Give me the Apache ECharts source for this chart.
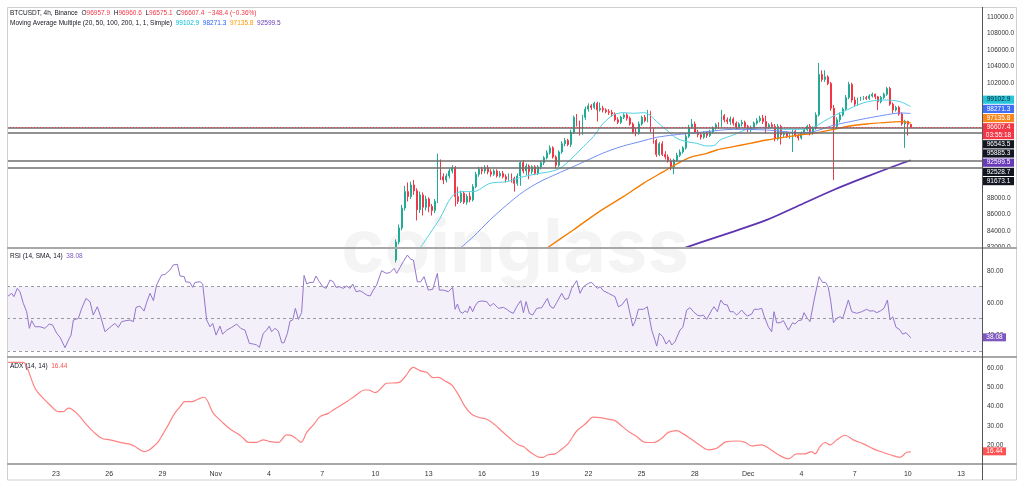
<!DOCTYPE html>
<html><head><meta charset="utf-8">
<script src="https://cdn.jsdelivr.net/npm/echarts@6/dist/echarts.min.js"></script>
<style>html,body{margin:0;padding:0;background:#fff}#c{width:1024px;height:486px}</style>
</head><body><div id="c"></div>
<script>
// ---------------- DATA ----------------
// x values are days since 2024-10-01 00:00 (fractional; one 4h candle = 1/6 day)
const X_MIN = 19.24, X_MAX = 74.18;
const tickDays   = [22,25,28,31,34,37,40,43,46,49,52,55,58,61,64,67,70,73];
const tickLabels = ['23','26','29','Nov','4','7','10','13','16','19','22','25','28','Dec','4','7','10','13'];
const priceTicks = [82000,84000,86000,88000,90000,92000,94000,96000,98000,100000,102000,104000,106000,108000,110000];
const rsiTicks = [40,60,80];
const adxTicks = [20,30,40,50,60];

const candleFirstDay = 41 + 1/6;   // Nov 10 04:00, 4h candles
// [open, close, low, high]
const candles = [
[80500,82700,80200,83000],[82700,84400,82400,84800],[84400,86800,84100,87200],[86800,88800,86500,89500],
[88800,88200,87600,89900],[88200,89600,87900,90000],[89600,88900,88400,90200],[88900,86600,85300,89200],
[86600,88400,86200,88800],[88400,86900,85900,88700],[86900,87900,86500,88300],[87900,87000,86300,88100],
[87000,86500,85900,87300],[86500,87600,86200,87900],[87600,92500,87400,93400],[92500,90600,90200,92700],
[90600,90200,89700,91000],[90200,90700,89900,91000],[90700,91300,90400,91600],[91300,91700,91000,92000],
[91700,88200,87000,91900],[88200,87600,87300,89400],[87600,88600,87400,88900],[88600,87500,87300,88800],
[87500,88200,87200,88500],[88200,87800,87500,88700],[87800,89400,87600,89700],[89400,90900,89200,91200],
[90900,91500,90600,91800],[91500,91300,90900,91800],[91300,91700,91000,92000],[91700,91200,90900,92000],
[91200,90900,90600,91500],[90900,91300,90700,91500],[91300,90700,90500,91500],[90700,91000,90500,91300],
[91000,90600,90400,91300],[90600,90300,89900,90900],[90300,90800,90100,91000],[90800,90400,89900,91000],
[90400,89800,88800,90600],[89800,90700,89500,91000],[90700,92300,89500,92500],[92300,91300,91000,92600],
[91300,91900,90800,92200],[91900,91200,90300,92100],[91200,91800,90900,92000],[91800,91000,90800,92000],
[91000,91800,90800,92000],[91800,92300,91500,92500],[92300,92900,92000,93100],[92900,93500,92700,93800],
[93500,94100,93300,94400],[94100,93000,92800,94300],[93000,92000,91600,93200],[92000,93600,91800,93800],
[93600,94600,93400,94900],[94600,95000,94300,95300],[95000,94500,94300,95200],[94500,96000,94200,96300],
[96000,97800,95800,98000],[97800,97100,96700,98200],[97100,95800,95600,97400],[95800,97800,95700,98100],
[97800,98800,97500,99100],[98800,99200,98500,99500],[99200,99000,98700,99400],[99000,99500,98800,99700],
[99500,98700,97300,99700],[98700,98900,98500,99600],[98900,98700,98400,99200],[98700,98500,98300,98900],
[98500,98400,98100,98800],[98400,98200,97900,98700],[98200,97500,97300,98400],[97500,97200,97000,97800],
[97200,97800,97000,98000],[97800,98100,97600,98300],[98100,97700,97400,98300],[97700,97000,96800,97900],
[97000,96000,95800,97200],[96000,95900,95500,96500],[95900,97000,95700,97300],[97000,97800,96800,98000],
[97800,97400,97200,98100],[97400,98500,97200,98700],[98500,96300,96000,98600],[96300,95000,94600,96500],
[95000,93300,93000,95200],[93300,94600,93100,94800],[94600,93300,93100,94900],[93300,93000,92700,93700],
[93000,92500,92300,93300],[92500,91800,91400,92800],[91800,92600,90900,92800],[92600,93200,92400,93500],
[93200,93600,93000,93900],[93600,94100,93400,94300],[94100,95500,93900,95800],[95500,96600,95300,96900],
[96600,97000,96400,97600],[97000,96000,95800,97300],[96000,95700,95400,96300],[95700,95400,95100,96000],
[95400,95900,95200,96100],[95900,95600,95300,96100],[95600,96000,95400,96300],[96000,96500,95800,96700],
[96500,96900,96300,97100],[96900,96700,96400,97200],[96700,98000,96500,98700],[98000,97500,97200,98200],
[97500,97300,97000,97800],[97300,97600,96900,97900],[97600,97100,96800,97800],[97100,96600,96300,97300],
[96600,97000,96400,97200],[97000,97200,96700,97500],[97200,96700,96500,97400],[96700,96300,96000,96900],
[96300,96500,96000,96800],[96500,97100,96300,97300],[97100,97400,96900,97700],[97400,97700,97200,98000],
[97700,97300,97000,98100],[97300,96600,95900,98000],[96600,96900,96400,97100],[96900,96700,96500,97200],
[96700,95200,94900,97000],[95200,96700,95000,97000],[96700,95700,94500,96900],[95700,95900,95400,96100],
[95900,95500,95300,96100],[95500,95700,95200,95900],[95700,96100,93600,96300],[96100,95600,95400,96300],
[95600,95300,95000,95800],[95300,95900,95100,96100],[95900,96300,95700,96500],[96300,96700,96100,96900],
[96700,95900,95600,97000],[95900,96500,95700,96700],[96500,98100,96300,98400],[98100,103000,97900,104400],
[103000,102400,102100,103500],[102400,102700,102100,103500],[102700,101900,101700,102900],[101900,98900,98600,102100],
[98900,96700,90200,99300],[96700,97500,96400,97800],[97500,98100,97200,98400],[98100,98800,97900,99000],
[98800,100200,98600,100500],[100200,101800,100000,102100],[101800,99900,99600,102000],[99900,99400,99100,100300],
[99400,100000,99200,100200],[100000,100100,99800,100300],[100100,100200,99900,100400],[100200,100100,99900,100400],
[100100,100400,99900,100600],[100400,100600,100200,100800],[100600,100300,100000,100700],[100300,99700,98700,100400],
[99700,100200,99500,100400],[100200,100600,100000,100800],[100600,101300,100400,101500],[101300,99400,99200,101500],
[99400,98700,98300,99600],[98700,99000,98500,99200],[99000,98200,98000,99200],[98200,97000,96800,98400],
[97000,97300,94100,97500],[97300,96957.9,95600,97400],[96957.9,96607.4,96575.1,96960.6]
];

// moving averages [day, price]
const ma20 = [[42.51,81926],[43.08,83744],[43.64,85562],[44.30,88188],[44.86,88794],[45.52,88794],[46.46,89804],
[47.40,90006],[48.34,90612],[49.28,91016],[49.84,91218],[50.40,91622],[50.97,92632],[51.53,93844],[52.28,95460],
[52.84,97076],[53.41,98086],[53.97,98369],[54.54,98288],[55.10,98369],[55.47,98086],[55.85,97278],[56.41,96268],
[56.98,95258],[57.54,94854],[58.10,94652],[58.67,94329],[59.14,94450],[59.42,95056],[60.17,95662],[61.11,96470],
[62.05,96591],[62.99,96349],[63.93,96349],[64.68,96591],[65.24,97278],[65.81,97965],[66.56,98692],[67.31,99419],
[68.06,99823],[68.81,99904],[69.56,99702],[70.17,99102.9]];
const ma50 = [[44.77,81926],[45.52,83340],[46.46,85360],[47.40,87178],[48.34,88794],[49.28,90006],[50.21,90935],
[51.15,91824],[52.09,92753],[53.03,93642],[53.97,94329],[54.91,94854],[55.85,95379],[56.79,95662],[57.73,95864],
[58.67,96066],[60.17,96349],[62.05,96268],[63.93,95945],[64.68,96066],[65.81,96834],[66.75,97278],[67.68,97682],
[68.62,98046],[69.56,98328],[70.17,98271.3]];
const ma100 = [[49.65,81926],[51.15,84148],[52.47,86168],[53.97,88188],[55.10,89804],[56.23,91218],[56.98,92147],
[57.73,92955],[58.67,93440],[59.23,93844],[60.17,94248],[61.11,94652],[62.05,95056],[62.99,95379],[63.93,95662],
[64.68,95864],[65.81,96349],[66.75,96753],[67.68,96995],[68.62,97157],[69.56,97278],[70.17,97135.8]];
const ma200 = [[57.35,81926],[58.29,82613],[60.17,83946],[62.05,85360],[63.93,87178],[65.81,88996],[67.68,90612],
[69.56,92147],[70.17,92599.5]];

const maLast = [99102.9, 98271.3, 97135.8, 92599.5];
const lastClose = 96607.4, countdown = '03:55:18';
const levels = [96543.5, 95885.3, 92528.7, 91673.1];

const rsi = [[19.26,63.8],[19.50,65.9],[19.63,63.8],[19.82,69.0],[19.97,66.9],[20.16,59.6],[20.35,54.4],[20.50,44.0],
[20.63,48.8],[20.82,45.0],[21.10,45.0],[21.38,44.0],[21.62,46.7],[21.81,46.1],[22.04,40.9],[22.23,38.4],[22.51,31.9],
[22.70,36.7],[22.85,39.8],[22.98,49.2],[23.26,50.2],[23.45,56.5],[23.69,62.7],[23.92,60.6],[24.10,52.3],[24.33,57.5],
[24.52,51.3],[24.76,41.9],[25.04,44.6],[25.32,47.1],[25.51,44.6],[25.70,48.2],[25.94,48.8],[26.17,49.2],[26.36,48.2],
[26.51,57.1],[26.73,57.9],[26.96,54.8],[27.11,60.2],[27.30,65.9],[27.49,61.3],[27.67,71.1],[27.95,77.3],[28.14,77.7],
[28.42,80.4],[28.61,83.6],[28.84,84.0],[28.99,76.7],[29.23,76.3],[29.31,73.1],[29.55,72.7],[29.70,69.6],[29.83,72.7],
[30.12,73.1],[30.27,71.7],[30.49,49.2],[30.68,45.0],[30.83,47.1],[31.02,39.8],[31.09,38.8],[31.24,45.4],[31.39,40.4],
[31.62,42.9],[31.90,44.6],[32.18,46.7],[32.41,44.0],[32.65,42.9],[32.90,34.6],[33.12,34.2],[33.31,33.6],[33.46,32.1],
[33.68,40.9],[33.87,42.9],[34.02,45.4],[34.15,41.9],[34.34,44.0],[34.53,42.3],[34.72,35.0],[34.85,35.0],[35.04,40.9],
[35.19,48.6],[35.34,49.2],[35.49,56.5],[35.66,49.6],[35.84,53.8],[35.98,77.1],[36.13,71.7],[36.31,72.7],[36.50,72.7],
[36.65,76.7],[36.84,73.1],[37.03,70.0],[37.22,69.0],[37.44,74.2],[37.63,73.1],[37.78,69.6],[37.97,70.0],[38.19,69.0],
[38.38,70.4],[38.57,69.0],[38.72,71.7],[38.91,66.9],[39.13,67.5],[39.32,66.3],[39.51,64.8],[39.70,64.2],[39.88,67.9],
[40.07,71.1],[40.35,80.0],[40.60,78.4],[40.82,78.8],[41.05,81.5],[41.20,78.4],[41.39,82.1],[41.57,85.7],[41.80,89.8],
[41.99,87.1],[42.14,86.7],[42.36,73.1],[42.55,73.1],[42.74,76.3],[42.98,67.9],[43.23,68.4],[43.32,69.0],[43.49,78.4],
[43.60,67.9],[43.83,67.9],[44.11,66.9],[44.35,69.6],[44.49,55.9],[44.62,59.2],[44.77,54.4],[44.92,53.4],[45.05,55.0],
[45.18,53.8],[45.33,57.9],[45.48,54.4],[45.61,57.9],[45.80,60.7],[45.99,61.1],[46.27,60.7],[46.46,57.9],[46.65,59.6],
[46.93,56.5],[47.21,57.1],[47.40,55.9],[47.58,54.4],[47.77,53.4],[47.96,57.5],[48.19,61.3],[48.34,53.8],[48.49,60.7],
[48.67,53.4],[48.86,52.3],[49.09,56.5],[49.37,56.9],[49.69,62.7],[49.84,57.9],[50.03,56.5],[50.21,60.0],[50.50,65.9],
[50.68,62.1],[50.87,62.7],[51.06,69.0],[51.34,73.8],[51.53,65.9],[51.72,70.0],[52.00,72.1],[52.19,72.7],[52.37,70.4],
[52.51,69.0],[52.66,70.0],[52.84,67.5],[53.13,65.9],[53.50,63.8],[53.69,57.5],[53.88,58.6],[54.16,62.7],[54.50,45.4],
[54.63,48.2],[54.82,55.9],[55.10,55.9],[55.32,57.5],[55.57,42.9],[55.66,39.8],[55.85,32.9],[56.00,40.9],[56.19,38.8],
[56.38,34.2],[56.56,36.7],[56.70,33.6],[56.88,35.6],[57.16,42.9],[57.32,44.6],[57.54,55.4],[57.73,56.9],[57.92,54.4],
[58.14,52.3],[58.29,51.7],[58.48,52.3],[58.67,49.6],[58.95,55.4],[59.08,57.5],[59.27,54.4],[59.46,61.7],[59.64,59.0],
[59.83,58.6],[59.98,54.4],[60.17,54.4],[60.36,52.3],[60.64,55.4],[60.83,52.9],[60.96,51.7],[61.20,52.9],[61.34,55.9],
[61.58,55.9],[61.77,56.5],[61.90,51.7],[62.14,45.0],[62.33,41.9],[62.46,54.4],[62.61,47.5],[62.80,47.5],[62.99,48.8],
[63.27,42.9],[63.51,47.5],[63.65,46.7],[63.83,48.8],[64.02,49.2],[64.15,53.8],[64.34,50.2],[64.49,48.2],[64.72,61.7],
[65.00,76.3],[65.19,72.7],[65.37,72.7],[65.52,69.6],[65.66,60.7],[65.81,47.5],[65.99,50.2],[66.18,51.3],[66.33,50.2],
[66.65,61.7],[66.84,54.4],[67.12,53.4],[67.40,54.4],[67.68,55.9],[67.87,54.8],[68.06,55.0],[68.25,53.8],[68.47,55.0],
[68.66,56.5],[68.85,61.7],[69.00,49.2],[69.15,51.3],[69.34,44.6],[69.52,43.4],[69.71,40.4],[69.90,41.3],[70.17,38.08]];

const adx = [[19.26,63.1],[20.16,63.1],[20.35,60.9],[20.82,49.6],[21.19,45.2],[21.66,40.9],[22.13,37.4],[22.41,37.4],
[22.70,39.2],[22.88,38.8],[23.26,35.7],[23.73,30.5],[24.10,27.0],[24.57,23.5],[25.04,22.7],[25.61,21.4],[25.89,20.9],
[26.26,20.1],[26.45,19.2],[26.73,17.5],[26.96,16.6],[27.20,17.1],[27.49,19.2],[27.77,21.8],[28.05,26.1],[28.33,30.5],
[28.65,36.0],[28.99,40.0],[29.27,42.6],[29.65,42.6],[30.02,44.0],[30.34,44.9],[30.87,36.5],[31.34,32.2],[31.81,28.3],
[32.28,25.6],[32.56,23.5],[32.84,21.4],[33.31,21.4],[33.68,22.7],[34.06,21.8],[34.53,21.4],[35.00,25.3],[35.28,24.9],
[35.56,23.2],[35.81,21.4],[36.13,26.6],[36.50,30.5],[36.88,34.8],[37.35,36.5],[37.63,38.3],[38.38,42.6],[38.85,45.6],
[39.41,48.7],[39.60,48.7],[39.98,47.3],[40.26,49.0],[40.63,52.2],[41.29,52.5],[41.67,55.6],[42.14,60.5],[42.51,58.8],
[42.89,57.9],[43.26,55.1],[43.55,55.3],[43.92,53.4],[44.30,51.3],[44.54,48.2],[44.77,44.7],[45.05,40.0],[45.42,36.0],
[45.80,34.5],[46.27,33.4],[46.74,30.5],[47.11,27.3],[47.68,22.7],[48.05,20.1],[48.34,19.2],[48.81,15.7],[49.28,13.6],
[49.46,13.6],[49.69,14.8],[50.12,15.4],[50.40,17.1],[50.87,20.9],[51.34,27.3],[51.81,30.8],[52.28,34.5],[52.66,34.3],
[53.03,33.6],[53.50,32.7],[53.88,29.9],[54.35,26.5],[54.72,24.4],[55.19,21.4],[55.66,21.3],[56.13,23.5],[56.51,26.6],
[56.98,27.5],[57.35,25.8],[57.73,23.5],[58.20,20.4],[58.76,17.5],[59.23,18.3],[59.79,21.8],[60.36,22.1],[60.83,21.4],
[61.20,19.5],[61.77,20.1],[62.24,17.8],[62.71,14.9],[63.27,12.8],[63.74,15.4],[64.21,15.4],[64.58,16.6],[64.77,15.4],
[65.05,19.2],[65.34,21.3],[65.62,20.1],[66.00,22.7],[66.46,25.1],[66.93,22.7],[67.50,20.6],[68.06,18.0],[68.62,16.1],
[69.00,14.9],[69.56,13.6],[69.94,16.2],[70.17,16.44]];
const rsiLast = 38.08, adxLast = 16.44;

// ---------------- CHART ----------------
const FONT = '"Liberation Sans", Arial, sans-serif';
const UP = '#22ab94', DOWN = '#f23645';
const C_MA20 = '#4fd0e3', C_MA50 = '#6f8ff7', C_MA100 = '#f57c00', C_MA200 = '#5e35b1';
const L = 7, R = 42;
const panes = [{top:7, h:241}, {top:248, h:109}, {top:357, h:107}];

const chart = echarts.init(document.getElementById('c'));
const candleData = candles.map((c, i) => [candleFirstDay + i / 6, c[0], c[1], c[2], c[3]]);

function xAxisFor(g, withLabels) {
  return {type:'value', gridIndex:g, min:X_MIN, max:X_MAX,
    axisLine:{show:false}, axisTick:{show:false}, splitLine:{show:false},
    axisLabel: withLabels ? {customValues: tickDays, fontSize:7, color:'#333', margin:7, fontFamily:FONT,
      formatter: v => tickLabels[tickDays.indexOf(Math.round(v))] || ''} : {show:false}};
}
function yAxisFor(g, min, max, ticks, fmt, hide) {
  return {type:'value', gridIndex:g, position:'right', min, max,
    axisLine:{show:false}, axisTick:{show:false}, splitLine:{show:false},
    axisLabel:{customValues: ticks, fontSize:6.5, color:'#333', margin:5, fontFamily:FONT,
      formatter: v => (hide && hide(v)) ? '' : v.toFixed(fmt)}};
}
const txt = {fontFamily:FONT, fontSize:6.5, fontWeight:'normal'};
const rich = {
  d:{...txt, color:'#131722'}, r:{...txt, color:'#f23645'}, c:{...txt, color:'#00bcd4'},
  b:{...txt, color:'#2962ff'}, o:{...txt, color:'#ff9800'}, p:{...txt, color:'#673ab7'},
  v:{...txt, color:'#7e57c2'}, a:{...txt, color:'#ff5252'}
};
const tStyle = {...txt, color:'#131722', rich};
const f1 = v => v.toFixed(1);
const option = {
  animation:false,
  backgroundColor:'#fff',
  title:[
    {left:10, top:10, padding:0, textStyle:tStyle,
     text:'{d|BTCUSDT, 4h, Binance}  {d|O}{r|96957.9}  {d|H}{r|96960.6}  {d|L}{r|96575.1}  {d|C}{r|' + f1(lastClose) + '}  {r|−348.4 (−0.36%)}'},
    {left:10, top:20, padding:0, textStyle:tStyle,
     text:'{d|Moving Average Multiple (20, 50, 100, 200, 1, 1, Simple)}  {c|' + f1(maLast[0]) + '}  {b|' + f1(maLast[1]) + '}  {o|' + f1(maLast[2]) + '}  {p|' + f1(maLast[3]) + '}'},
    {left:10, top:253, padding:0, textStyle:tStyle, text:'{d|RSI (14, SMA, 14)}  {v|' + rsiLast.toFixed(2) + '}'},
    {left:10, top:363, padding:0, textStyle:tStyle, text:'{d|ADX (14, 14)}  {a|' + adxLast.toFixed(2) + '}'}
  ],
  grid: panes.map(p => ({left:L, right:R, top:p.top, height:p.h})),
  xAxis:[xAxisFor(0,false), xAxisFor(1,false), xAxisFor(2,true)],
  yAxis:[
    yAxisFor(0, 81960, 111180, priceTicks, 1, v => v >= 90000 && v <= 100000),
    yAxisFor(1, 26.1, 94.2, rsiTicks, 2),
    yAxisFor(2, 10.1, 65.9, adxTicks, 2)
  ],
  series:[
    {type:'candlestick', xAxisIndex:0, yAxisIndex:0, data:candleData, barWidth:1.4, z:3,
     itemStyle:{color:UP, color0:DOWN, borderColor:UP, borderColor0:DOWN, borderWidth:1},
     markLine:{silent:true, symbol:['none','none'], label:{show:false},
       data:[
         ...levels.map(v => ({yAxis:v, lineStyle:{color:'#6e6e6e', width:1.6, type:'solid'}})),
         {yAxis:lastClose, lineStyle:{color:'#f23645', width:1, type:[1,2]}}
       ]}},
    {type:'line', xAxisIndex:0, yAxisIndex:0, data:ma20, showSymbol:false, smooth:0.3, lineStyle:{color:C_MA20, width:1}, z:4},
    {type:'line', xAxisIndex:0, yAxisIndex:0, data:ma50, showSymbol:false, smooth:0.3, lineStyle:{color:C_MA50, width:1}, z:4},
    {type:'line', xAxisIndex:0, yAxisIndex:0, data:ma100, showSymbol:false, smooth:0.3, lineStyle:{color:C_MA100, width:1.4}, z:4},
    {type:'line', xAxisIndex:0, yAxisIndex:0, data:ma200, showSymbol:false, smooth:0.3, lineStyle:{color:C_MA200, width:1.8}, z:4},
    {type:'line', xAxisIndex:1, yAxisIndex:1, data:rsi, showSymbol:false, lineStyle:{color:'#9575cd', width:1}, z:4,
     markArea:{silent:true, itemStyle:{color:'rgba(126,87,194,0.09)'}, data:[[{yAxis:30},{yAxis:70}]]},
     markLine:{silent:true, symbol:['none','none'], label:{show:false},
       lineStyle:{color:'#9a9aa2', width:1, type:[3,3]}, data:[{yAxis:70},{yAxis:50},{yAxis:30}]}},
    {type:'line', xAxisIndex:2, yAxisIndex:2, data:adx, showSymbol:false, smooth:0.35, lineStyle:{color:'#ff8282', width:1.2}, z:4}
  ]
};
chart.setOption(option);

// ---------- overlay: frame, watermark, value tags ----------
// price tags: the last-price tag sits at its price, the others stack away from it without overlapping
function tagLayout(items, anchor) {
  items.sort((a, b) => a.y - b.y);
  const ai = items.indexOf(anchor);
  anchor.top = anchor.y - 4;
  for (let i = ai - 1; i >= 0; i--) {
    const it = items[i];
    it.top = Math.min(it.y - it.h / 2, items[i + 1].top - it.h);
  }
  for (let i = ai + 1; i < items.length; i++) {
    const it = items[i], prev = items[i - 1];
    it.top = Math.max(it.y - it.h / 2, prev.top + prev.h);
  }
}

const W = 1024;
const axisX = W - R;
const py = (g, v) => chart.convertToPixel({gridIndex:g}, [X_MAX, v])[1];
const lastTag = {v:lastClose, lines:[f1(lastClose), countdown], bg:'#f23645', fg:'#fff'};
const tags = [
  {v:maLast[0], lines:[f1(maLast[0])], bg:'#26c6da', fg:'#131722'},
  {v:maLast[1], lines:[f1(maLast[1])], bg:'#3f6ff5', fg:'#fff'},
  {v:maLast[2], lines:[f1(maLast[2])], bg:'#f7861c', fg:'#fff'},
  lastTag,
  ...levels.map(v => ({v, lines:[f1(v)], bg:'#131722', fg:'#fff'})),
  {v:maLast[3], lines:[f1(maLast[3])], bg:'#673ab7', fg:'#fff'}
];
tags.forEach(t => { t.y = py(0, t.v); t.h = t.lines.length === 2 ? 17 : 9.2; });
tagLayout(tags, lastTag);

const els = [];
els.push({type:'text', z:0, silent:true, style:{text:'coinglass', x:515, y:250, align:'center', verticalAlign:'middle',
  fontSize:74, fontWeight:'bold', fontFamily:'Inter, "Noto Sans", sans-serif', fill:'rgba(0,0,0,0.045)'}});
els.push({type:'rect', z:50, silent:true, shape:{x:L + 0.5, y:7.5, width:1017 - L - 1, height:480 - 7.5}, style:{fill:'none', stroke:'#cfcfcf', lineWidth:1}});
[panes[1].top, panes[2].top, panes[2].top + panes[2].h].forEach(y => {
  els.push({type:'line', z:50, silent:true, shape:{x1:L, y1:y, x2:1017, y2:y}, style:{stroke:'#a8a8a8', lineWidth:2}});
});
els.push({type:'line', z:51, silent:true, shape:{x1:axisX + 0.5, y1:7, x2:axisX + 0.5, y2:480}, style:{stroke:'#555', lineWidth:1}});

function addTag(top, h, w, lines, bg, fg) {
  els.push({type:'rect', z:60, silent:true, shape:{x:axisX + 1, y:top, width:w, height:h - 1}, style:{fill:bg}});
  lines.forEach((s, j) => {
    els.push({type:'text', z:61, silent:true, style:{text:s, x:axisX + 1 + w / 2, y:top + 4 + j * 8, align:'center', verticalAlign:'middle',
      fontSize:6.5, fontFamily:FONT, fill:fg}});
  });
}
tags.forEach(t => addTag(t.top, t.h, 31, t.lines, t.bg, t.fg));
addTag(py(1, rsiLast) - 4.5, 9, 23, [rsiLast.toFixed(2)], '#7e57c2', '#fff');
addTag(py(2, adxLast) - 4.5, 9, 23, [adxLast.toFixed(2)], '#ff5252', '#fff');

chart.setOption({graphic:{elements:els}});
</script>
</body></html>
